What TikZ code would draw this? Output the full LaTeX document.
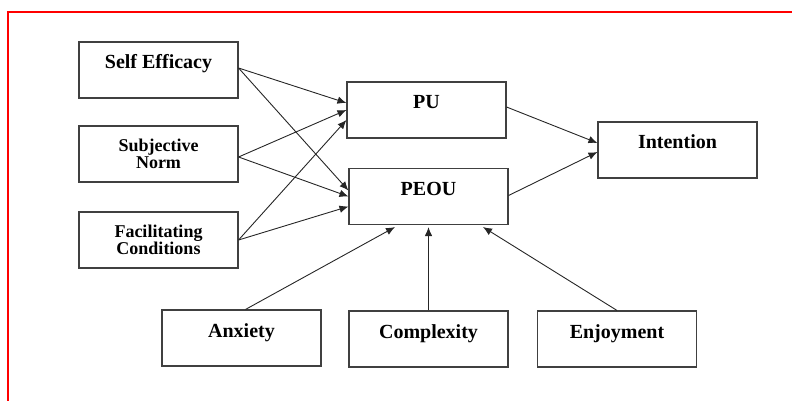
\documentclass[tikz,border=0pt]{standalone}
\usepackage{fontspec}
\setmainfont{Liberation Serif}
\usetikzlibrary{arrows.meta}

\begin{document}
\begin{tikzpicture}[x=1pt,y=-1pt]
            \tikzset{
                cbox/.style={draw=black!75,line width=1.1pt,minimum width=159pt,minimum height=56pt,
                    inner sep=0pt,align=center,font=\fontsize{18}{17}\selectfont\bfseries},
                onebox/.style={cbox,font=\fontsize{20}{22}\selectfont\bfseries,text height=14pt,text depth=16pt},
                link/.style={draw=black!85,line width=0.9pt,-{Latex[length=9pt,width=7.5pt]}},}
            \useasboundingbox (0,0) rectangle (792,401);
            \draw [red,line width=1.4pt](8,401) -- (8,12) -- (792,12);
            % left column
            \node [onebox] (se) at (158.5,70) {Self Efficacy};
            \node [cbox] (sn) at (158.5,154) {Subjective\\Norm};
            \node [cbox] (fc) at (158.5,240) {Facilitating\\Conditions};
            % middle and right
            \node [onebox] (pu) at (426.5,110) {PU};
            \node [onebox] (peou) at (428.5,196.5) {PEOU};
            \node [onebox] (int) at (677.5,150) {Intention};
            % bottom row
            \node [onebox] (anx) at (241.5,338) {Anxiety};
            \node [onebox] (cpx) at (428.5,339) {Complexity};
            \node [onebox] (enj) at (617,339) {Enjoyment};
            % connectors
            \draw [link] ([yshift=2pt]se.east) -- ([yshift=7pt]pu.west);
            \draw [link] ([yshift=2pt]se.east) -- ([yshift=6pt]peou.west);
            \draw [link] ([yshift=-3pt]sn.east) -- (pu.west);
            \draw [link] ([yshift=-3pt]sn.east) -- (peou.west);
            \draw [link] (fc.east) -- ([yshift=-10pt]pu.west);
            \draw [link] (fc.east) -- ([yshift=-10pt]peou.west);
            \draw [link] ([yshift=3pt]pu.east) -- ([yshift=7pt]int.west);
            \draw [link] ([yshift=1pt]peou.east) -- ([yshift=-2pt]int.west);
            \draw [link] ([xshift=4pt]anx.north) -- ([xshift=-33.5pt,yshift=-2pt]peou.south);
            \draw [link] (cpx.north) -- ([yshift=-2pt]peou.south);
            \draw [link] (enj.north) -- ([xshift=54.5pt,yshift=-2pt]peou.south);
        \end{tikzpicture}
\end{document}
